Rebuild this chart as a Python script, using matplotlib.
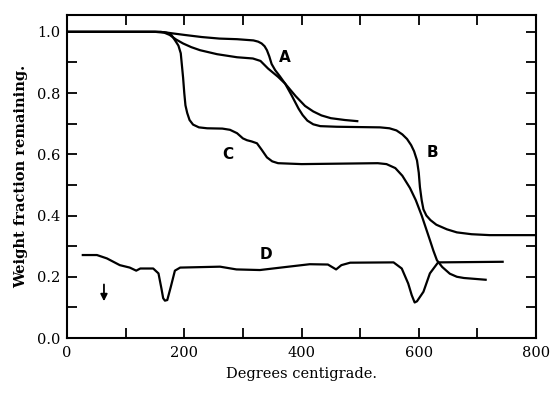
import matplotlib
matplotlib.use("Agg")
import matplotlib.pyplot as plt
from matplotlib.ticker import MultipleLocator

# Curve data (temperature in degrees C, weight fraction remaining)
a_x = [0, 150, 165, 180, 200, 230, 260, 290, 318, 326, 332, 337, 341, 345, 349, 355, 363, 372, 383, 395,
       402, 410, 420, 432, 460, 534, 550, 562, 572, 580, 587, 592, 597, 600, 602, 605, 608, 613, 620, 630,
       648, 665, 690, 721, 800]
a_y = [1.0, 1.0, 0.999, 0.995, 0.99, 0.983, 0.978, 0.976, 0.972, 0.968, 0.962, 0.953, 0.94, 0.92, 0.895,
       0.875, 0.855, 0.831, 0.793, 0.749, 0.728, 0.71, 0.698, 0.692, 0.69, 0.688, 0.685, 0.678, 0.665,
       0.65, 0.63, 0.61, 0.58, 0.54, 0.493, 0.45, 0.42, 0.40, 0.385, 0.37, 0.355, 0.345, 0.339, 0.336,
       0.336]

b_x = [0, 150, 165, 175, 186, 198, 212, 227, 256, 290, 317, 330, 343, 360, 372, 390, 406, 420, 434, 450,
       474, 497]
b_y = [1.0, 1.0, 0.998, 0.99, 0.975, 0.962, 0.95, 0.94, 0.927, 0.917, 0.913, 0.905, 0.88, 0.853, 0.831,
       0.79, 0.758, 0.74, 0.727, 0.718, 0.712, 0.708]

c_x = [0, 160, 170, 178, 185, 190, 194, 196, 198, 200, 202, 205, 209, 215, 225, 239, 265, 278, 290, 300,
       307, 315, 324, 332, 341, 350, 360, 400, 530, 545, 560, 572, 585, 595, 605, 612, 619, 625, 631, 640,
       653, 665, 677, 716]
c_y = [1.0, 1.0, 0.997, 0.99, 0.97, 0.955, 0.93, 0.89, 0.85, 0.80, 0.76, 0.735, 0.712, 0.697, 0.688,
       0.685, 0.684, 0.68, 0.669, 0.652, 0.646, 0.642, 0.636, 0.615, 0.59, 0.577, 0.571, 0.568, 0.571,
       0.568, 0.555, 0.53, 0.49, 0.45, 0.40, 0.36, 0.32, 0.285, 0.254, 0.232, 0.21, 0.20, 0.196, 0.19]

d_x = [25, 51, 68, 90, 107, 118, 125, 147, 156, 161, 164, 167, 171, 177, 184, 193, 261, 289, 329, 369,
       414, 445, 459, 468, 483, 557, 571, 582, 588, 593, 597, 608, 619, 633, 745]
d_y = [0.271, 0.271, 0.26, 0.238, 0.23, 0.22, 0.227, 0.227, 0.211, 0.162, 0.13, 0.122, 0.124, 0.167,
       0.22, 0.23, 0.233, 0.224, 0.222, 0.231, 0.241, 0.24, 0.224, 0.238, 0.246, 0.247, 0.227, 0.178,
       0.14, 0.116, 0.12, 0.151, 0.211, 0.247, 0.249]

labels = ["A", "B", "C", "D"]
label_x = [372, 623, 275, 340]
label_y = [0.917, 0.607, 0.60, 0.274]

arrow_x = 63
arrow_y = [0.184, 0.111]

fig = plt.figure(figsize=(5.54, 3.97), dpi=100)
ax = fig.add_axes([0.121, 0.1486, 0.8465, 0.8136])

lw = 1.6
for xs, ys in [(a_x, a_y), (b_x, b_y), (c_x, c_y), (d_x, d_y)]:
    ax.plot(xs, ys, color="black", lw=lw, solid_joinstyle="round", solid_capstyle="butt")

for t, x, y in zip(labels, label_x, label_y):
    ax.text(x, y, t, ha="center", va="center", fontsize=11, fontweight="bold",
            family="DejaVu Sans")

ax.annotate("", xy=(arrow_x, arrow_y[1]), xytext=(arrow_x, arrow_y[0]),
            arrowprops=dict(arrowstyle="-|>", color="black", lw=1.3, mutation_scale=10))

ax.set_xlim(0, 800)
ax.set_ylim(0, 1.055)
ax.xaxis.set_major_locator(MultipleLocator(200))
ax.xaxis.set_minor_locator(MultipleLocator(100))
ax.yaxis.set_minor_locator(MultipleLocator(0.1))
ax.set_yticks([0.0, 0.2, 0.4, 0.6, 0.8, 1.0])
ax.set_yticklabels(["0.0", "0.2", "0.4", "0.6", "0.8", "1.0"])

for s in ax.spines.values():
    s.set_linewidth(1.5)
ax.tick_params(which="both", direction="in", top=True, right=True, width=1.3, length=7)
ax.tick_params(which="major", labelsize=10.5, pad=6)
ax.tick_params(axis="y", which="major", pad=5)
for lab in ax.get_xticklabels() + ax.get_yticklabels():
    lab.set_family("DejaVu Serif")

ax.set_xlabel("Degrees centigrade.", family="DejaVu Serif", fontsize=10.5, labelpad=5)
ax.set_ylabel("Weight fraction remaining.", family="DejaVu Serif", fontsize=10.5,
              fontweight="bold", labelpad=6)

fig.savefig("out.png", dpi=100)
